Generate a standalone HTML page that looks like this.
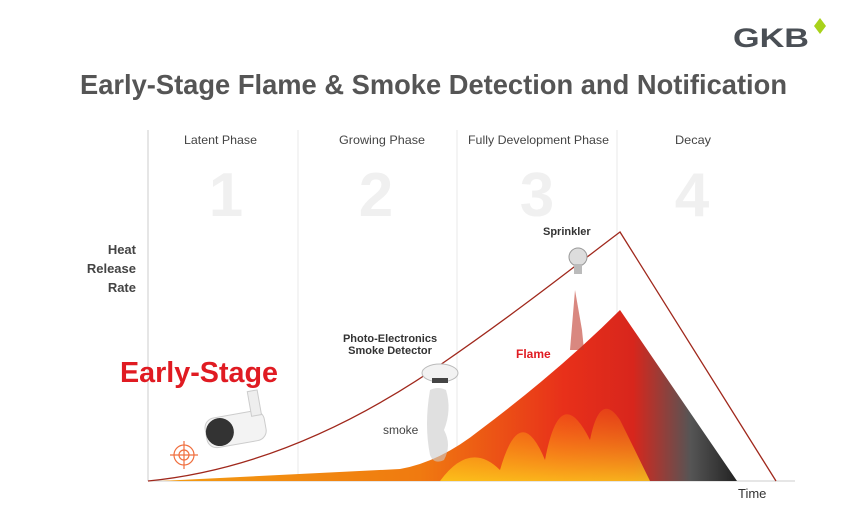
<!DOCTYPE html>
<html><head><meta charset="utf-8"><style>
html,body{margin:0;padding:0;background:#fff;}
svg{display:block;font-family:"Liberation Sans",sans-serif;}
</style></head><body>
<svg width="850" height="521" viewBox="0 0 850 521">
<defs>
<linearGradient id="fg" x1="0" y1="0" x2="1" y2="0">
<stop offset="0" stop-color="#f39c12"/>
<stop offset="0.45" stop-color="#f07a10"/>
<stop offset="0.7" stop-color="#e8301a"/>
<stop offset="0.82" stop-color="#d8261c"/>
<stop offset="0.92" stop-color="#555"/>
<stop offset="1" stop-color="#222"/>
</linearGradient>
<linearGradient id="yf" x1="0" y1="1" x2="0" y2="0">
<stop offset="0" stop-color="#ffd21c"/>
<stop offset="1" stop-color="#ff8a10" stop-opacity="0.3"/>
</linearGradient>
</defs>
<text x="733" y="47" font-size="27" font-weight="bold" fill="#4a4f55" textLength="76" lengthAdjust="spacingAndGlyphs">GKB</text>
<polygon points="820,18 826,26 820,34 814,26" fill="#a8d21a"/>
<text x="80" y="94" font-size="28" font-weight="bold" fill="#555" textLength="707" lengthAdjust="spacingAndGlyphs">Early-Stage Flame &amp; Smoke Detection and Notification</text>
<g stroke="#e8e8e8" stroke-width="1"><line x1="298" y1="130" x2="298" y2="481"/><line x1="457" y1="130" x2="457" y2="481"/><line x1="617" y1="130" x2="617" y2="481"/></g>
<line x1="148" y1="130" x2="148" y2="481" stroke="#ccc"/>
<line x1="148" y1="481" x2="795" y2="481" stroke="#ccc"/>
<g font-size="12" fill="#444">
<text x="184" y="144" textLength="73" lengthAdjust="spacingAndGlyphs">Latent Phase</text><text x="339" y="144" textLength="86" lengthAdjust="spacingAndGlyphs">Growing Phase</text><text x="468" y="144" textLength="141" lengthAdjust="spacingAndGlyphs">Fully Development Phase</text><text x="675" y="144" textLength="36" lengthAdjust="spacingAndGlyphs">Decay</text></g>
<g font-size="62" font-weight="bold" fill="#f0f0f0" text-anchor="middle">
<text x="226" y="216">1</text><text x="376" y="216">2</text><text x="537" y="216">3</text><text x="692" y="216">4</text></g>
<g font-size="13" font-weight="bold" fill="#444" text-anchor="end">
<text x="136" y="254">Heat</text><text x="136" y="273">Release</text><text x="136" y="292">Rate</text></g>
<path d="M160,481 L400,469 Q440,462 480,430 Q560,370 620,310 L737,481 Z" fill="url(#fg)"/>
<path d="M440,481 Q470,440 500,470 Q520,400 545,460 Q560,380 590,440 Q600,390 620,420 Q630,440 650,481 Z" fill="url(#yf)" opacity="0.8"/>
<path d="M570,350 L575,290 L582,330 L584,350 Z" fill="#c0392b" opacity="0.6"/>
<path d="M148,481 C260,470 360,420 440,365 C520,310 580,262 620,232 L776,481" fill="none" stroke="#a0281c" stroke-width="1.3"/>
<text x="120" y="382" font-size="29" font-weight="bold" fill="#e01b22" textLength="158" lengthAdjust="spacingAndGlyphs">Early-Stage</text>
<text x="390" y="342" font-size="11" font-weight="bold" fill="#333" text-anchor="middle">Photo-Electronics</text>
<text x="390" y="354" font-size="11" font-weight="bold" fill="#333" text-anchor="middle">Smoke Detector</text>
<text x="383" y="434" font-size="12" fill="#444">smoke</text>
<text x="516" y="358" font-size="12" font-weight="bold" fill="#e01b22">Flame</text>
<text x="543" y="235" font-size="11" font-weight="bold" fill="#333">Sprinkler</text>
<text x="738" y="498" font-size="13" fill="#333">Time</text>
<ellipse cx="440" cy="373" rx="18" ry="9" fill="#f2f2f2" stroke="#bbb"/>
<rect x="432" y="378" width="16" height="5" fill="#444"/>
<path d="M430,390 q8,-4 16,0 q6,20 -2,40 q8,15 0,30 q-10,5 -14,-5 q-6,-30 0,-65z" fill="#ccc" opacity="0.6"/>
<circle cx="578" cy="257" r="9" fill="#ddd" stroke="#999"/>
<rect x="574" y="264" width="8" height="10" fill="#bbb"/>
<g transform="translate(200,400) rotate(-10)">
<rect x="0" y="20" width="60" height="30" rx="10" fill="#f3f3f3" stroke="#ccc"/>
<circle cx="14" cy="35" r="14" fill="#333"/>
<rect x="48" y="0" width="10" height="25" fill="#eee" stroke="#ccc"/>
</g>
<g stroke="#f07040" fill="none" stroke-width="1.2">
<circle cx="184" cy="455" r="10"/><circle cx="184" cy="455" r="5"/>
<line x1="170" y1="455" x2="198" y2="455"/><line x1="184" y1="441" x2="184" y2="469"/></g>
</svg>
</body></html>
